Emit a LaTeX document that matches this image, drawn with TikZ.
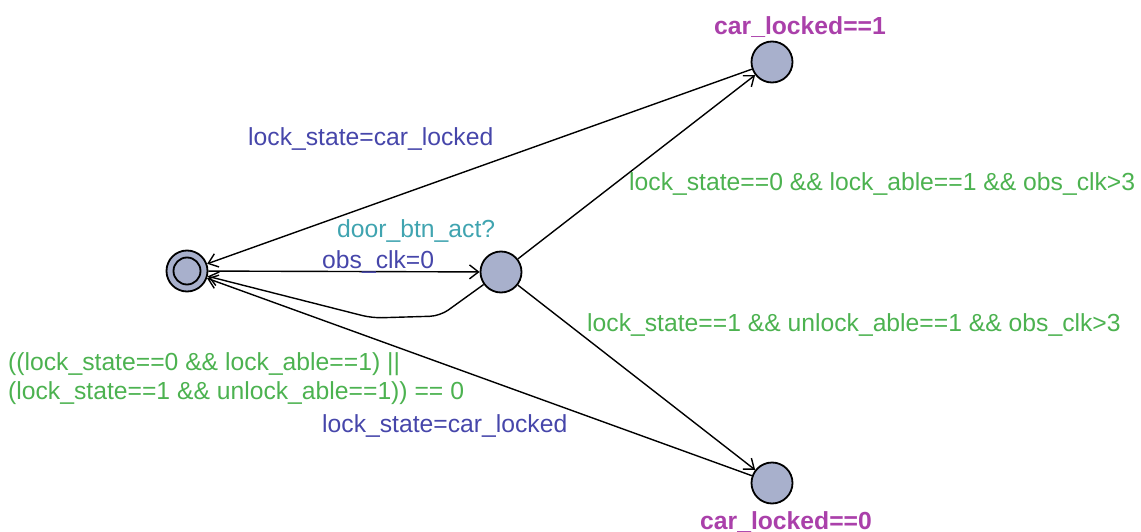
\documentclass[tikz,border=0pt]{standalone}
\usepackage{fontspec}
\setmainfont{Liberation Sans}
\usetikzlibrary{arrows.meta}
\definecolor{guardc}{RGB}{76,178,80}
\definecolor{assignc}{RGB}{70,70,170}
\definecolor{syncc}{RGB}{64,164,176}
\definecolor{invc}{RGB}{170,64,170}
\definecolor{locfill}{RGB}{168,176,204}
\begin{document}
\begin{tikzpicture}[x=1pt,y=-1pt,
  loc/.style={circle,draw=black,fill=locfill,line width=1.8pt,minimum size=41pt,inner sep=0pt},
  edge/.style={draw=black,line width=1.4pt,-{Straight Barb[length=9pt,width=14pt,line width=1.4pt]}},
  lbl/.style={anchor=base west,inner sep=0pt,font=\fontsize{24.7}{28}\selectfont},
  guard/.style={lbl,text=guardc},
  assign/.style={lbl,text=assignc},
  sync/.style={lbl,text=syncc},
  inv/.style={lbl,text=invc,font=\fontsize{24.7}{28}\selectfont\bfseries}]
\useasboundingbox (0,0) rectangle (1141,532);
\node[loc] (init) at (187,271) {};
\draw[line width=1.8pt] (init.center) circle (13.5pt);
\node[loc] (mid) at (501,272) {};
\node[loc] (top) at (772,62) {};
\node[loc] (bot) at (772,483) {};
\node[inv] (invtop) at (714,35) {car\_locked==1};
\node[inv] (invbot) at (700,529) {car\_locked==0};
\draw[edge] (mid) -- (top);
\draw[edge] (top) -- (init);
\draw[edge] (init) -- (mid);
\coordinate (b1) at (440,316);
\coordinate (b2) at (372,318);
\draw[edge,rounded corners=10pt] (mid) -- (b1) -- (b2) -- (init);
\draw[edge] (mid) -- (bot);
\draw[edge] (bot) -- (init);
\node[assign] (a1) at (248,146) {lock\_state=car\_locked};
\node[guard] (g1) at (629,190) {lock\_state==0 \&\& lock\_able==1 \&\& obs\_clk>3};
\node[sync] (s1) at (337,237) {door\_btn\_act?};
\node[assign] (a2) at (322,268) {obs\_clk=0};
\node[guard] (g2) at (587,331) {lock\_state==1 \&\& unlock\_able==1 \&\& obs\_clk>3};
\node[guard] (g3a) at (8,370) {((lock\_state==0 \&\& lock\_able==1) ||};
\node[guard] (g3b) at (8,399) {(lock\_state==1 \&\& unlock\_able==1)) == 0};
\node[assign] (a3) at (322,432) {lock\_state=car\_locked};
\end{tikzpicture}
\end{document}
